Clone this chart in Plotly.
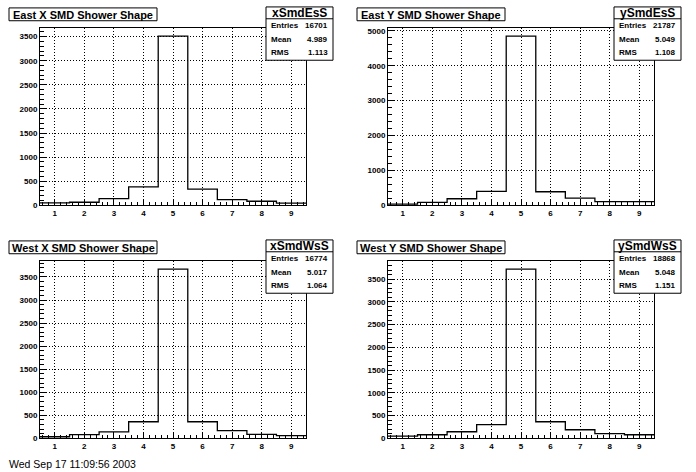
import plotly.graph_objects as go

W, H = 696, 472

bin_centers = [1, 2, 3, 4, 5, 6, 7, 8, 9]
east_x = [50, 65, 140, 385, 3510, 335, 120, 85, 45]
east_y = [35, 85, 190, 400, 4850, 390, 210, 110, 105]
west_x = [35, 80, 140, 360, 3670, 360, 170, 85, 60]
west_y = [50, 80, 145, 300, 3720, 365, 190, 105, 80]

titles = ["East X SMD Shower Shape", "East Y SMD Shower Shape",
          "West X SMD Shower Shape", "West Y SMD Shower Shape"]
stat_names = ["xSmdEsS", "ySmdEsS", "xSmdWsS", "ySmdWsS"]
entries = ["16701", "21787", "16774", "18868"]
means = ["4.989", "5.049", "5.017", "5.048"]
rms_vals = ["1.113", "1.108", "1.064", "1.151"]
x_ticks = [1, 2, 3, 4, 5, 6, 7, 8, 9]
y_major = [500, 1000, 500, 500]
y_minor = [100, 200, 100, 100]
footer = "Wed Sep 17 11:09:56 2003"

series = [east_x, east_y, west_x, west_y]
offsets = [(0, 0), (348, 0), (0, 236), (348, 236)]

FONT = "Liberation Sans, Arial, Helvetica, sans-serif"


def px(x):
    return x / W


def py(y):
    return 1 - y / H


fig = go.Figure()
shapes = []
annotations = []

for i, vals in enumerate(series):
    ox, oy = offsets[i]
    ax = "" if i == 0 else str(i + 1)
    edges = [c - 0.5 for c in bin_centers] + [bin_centers[-1] + 0.5]
    ys = list(vals) + [vals[-1]]
    fig.add_trace(go.Scatter(
        x=edges, y=ys, mode="lines", line=dict(color="black", width=1.3, shape="hv"),
        xaxis="x" + ax, yaxis="y" + ax, showlegend=False, hoverinfo="skip"))

    left, right, top, bottom = ox + 40, ox + 306, oy + 27, oy + 207
    xa = dict(
        domain=[px(left), px(right)], range=[0.5, 9.5], anchor="y" + ax,
        tickmode="array", tickvals=x_ticks, ticktext=[str(t) for t in x_ticks],
        ticks="inside", ticklen=5, tickcolor="black", tickwidth=1,
        showline=True, linecolor="black", linewidth=1, mirror=True,
        showgrid=True, gridcolor="black", griddash="1px,2px", gridwidth=1,
        zeroline=False,
        tickfont=dict(family=FONT, size=8, color="black", weight="bold"),
        minor=dict(ticks="inside", ticklen=3, dtick=0.2, tick0=0.4, tickcolor="black", showgrid=False),
    )
    ymax = max(vals) * 1.05
    ya = dict(
        domain=[py(bottom), py(top)], range=[0, ymax], anchor="x" + ax,
        tick0=0, dtick=y_major[i],
        ticks="inside", ticklen=7, tickcolor="black", tickwidth=1,
        showline=True, linecolor="black", linewidth=1, mirror=True,
        showgrid=True, gridcolor="black", griddash="1px,2px", gridwidth=1,
        zeroline=False,
        tickfont=dict(family=FONT, size=8, color="black", weight="bold"),
        minor=dict(ticks="inside", ticklen=3.5, dtick=y_minor[i], tick0=0, tickcolor="black", showgrid=False),
    )
    fig.layout["xaxis" + ax] = xa
    fig.layout["yaxis" + ax] = ya

    # title box
    tx0, tx1, ty0, ty1 = ox + 9, ox + 157, oy + 7, oy + 20
    shapes.append(dict(type="rect", xref="paper", yref="paper",
                       x0=px(tx0), x1=px(tx1), y0=py(ty1), y1=py(ty0),
                       line=dict(color="black", width=1), fillcolor="white", layer="above"))
    annotations.append(dict(text=titles[i], xref="paper", yref="paper",
                            x=px((tx0 + tx1) / 2), y=py((ty0 + ty1) / 2 + 0.5),
                            xanchor="center", yanchor="middle", showarrow=False,
                            font=dict(family=FONT, size=11, color="black", weight="bold")))

    # stats box
    sx0, sx1, sy0, sy1, sym = ox + 266, ox + 333, oy + 6, oy + 60, oy + 18
    shapes.append(dict(type="rect", xref="paper", yref="paper",
                       x0=px(sx0), x1=px(sx1), y0=py(sy1), y1=py(sy0),
                       line=dict(color="black", width=1), fillcolor="white", layer="above"))
    shapes.append(dict(type="line", xref="paper", yref="paper",
                       x0=px(sx0), x1=px(sx1), y0=py(sym), y1=py(sym),
                       line=dict(color="black", width=1), layer="above"))
    annotations.append(dict(text=stat_names[i], xref="paper", yref="paper",
                            x=px((sx0 + sx1) / 2), y=py((sy0 + sym) / 2 + 0.5),
                            xanchor="center", yanchor="middle", showarrow=False,
                            font=dict(family=FONT, size=12, color="black", weight="bold")))
    rows = [("Entries", entries[i]), ("Mean", means[i]), ("RMS", rms_vals[i])]
    for k, (lab, val) in enumerate(rows):
        ry = oy + 25 + k * 13.5
        annotations.append(dict(text=lab, xref="paper", yref="paper",
                                x=px(sx0 + 3), y=py(ry), xanchor="left", yanchor="middle",
                                showarrow=False,
                                font=dict(family=FONT, size=8, color="black", weight="bold")))
        annotations.append(dict(text=val, xref="paper", yref="paper",
                                x=px(sx1 - 3), y=py(ry), xanchor="right", yanchor="middle",
                                showarrow=False,
                                font=dict(family=FONT, size=8, color="black", weight="bold")))

annotations.append(dict(text=footer, xref="paper", yref="paper",
                        x=px(7), y=py(461), xanchor="left", yanchor="top", showarrow=False,
                        font=dict(family=FONT, size=10.5, color="black")))

fig.update_layout(
    width=W, height=H, margin=dict(l=0, r=0, t=0, b=0),
    paper_bgcolor="white", plot_bgcolor="white",
    shapes=shapes, annotations=annotations, showlegend=False,
)

fig.write_html("out.html", config={"displayModeBar": False},
               post_script="document.body.style.margin='0';document.body.style.overflow='hidden';")
